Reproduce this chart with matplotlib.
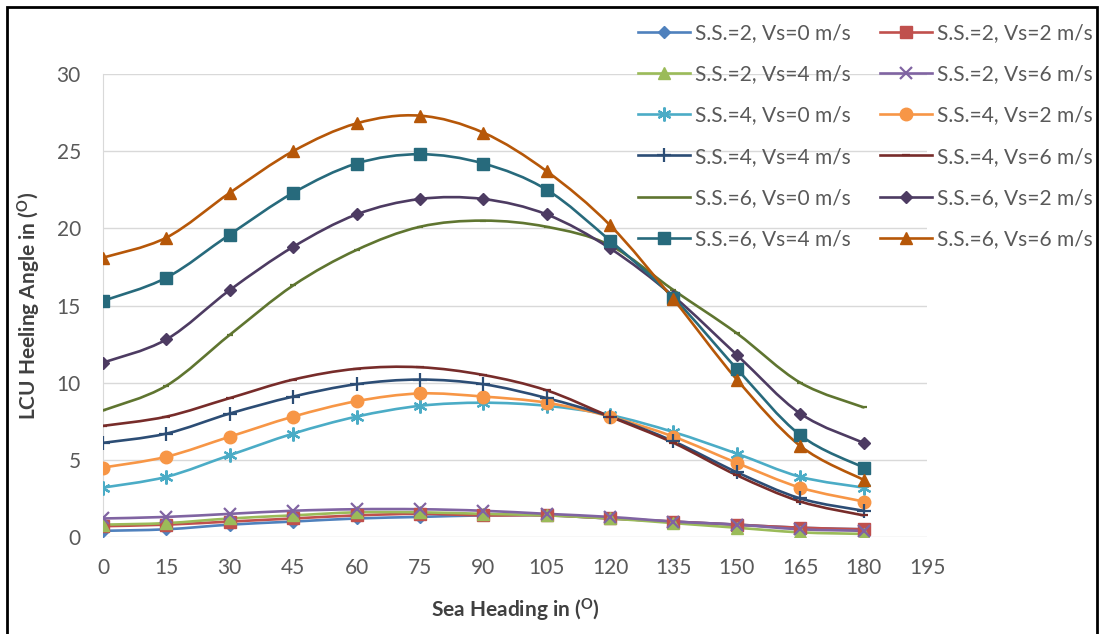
import numpy as np
import matplotlib
matplotlib.use('Agg')
import matplotlib.pyplot as plt
from matplotlib.path import Path
from matplotlib.patches import PathPatch, Rectangle
from matplotlib.lines import Line2D

plt.rcParams['font.family'] = ['Lato', 'DejaVu Sans']
plt.rcParams['mathtext.fontset'] = 'custom'
plt.rcParams['mathtext.rm'] = 'Lato'
plt.rcParams['mathtext.bf'] = 'Lato:bold'

heading = [0, 15, 30, 45, 60, 75, 90, 105, 120, 135, 150, 165, 180]

ss2_v0 = [0.4, 0.5, 0.8, 1.0, 1.2, 1.3, 1.4, 1.4, 1.2, 1.0, 0.8, 0.6, 0.5]
ss2_v2 = [0.7, 0.8, 1.0, 1.2, 1.4, 1.5, 1.4, 1.4, 1.2, 1.0, 0.8, 0.6, 0.5]
ss2_v4 = [0.8, 0.9, 1.2, 1.4, 1.6, 1.6, 1.5, 1.4, 1.2, 0.9, 0.6, 0.3, 0.2]
ss2_v6 = [1.2, 1.3, 1.5, 1.7, 1.8, 1.8, 1.7, 1.5, 1.3, 1.0, 0.8, 0.5, 0.4]
ss4_v0 = [3.2, 3.9, 5.3, 6.7, 7.8, 8.5, 8.7, 8.5, 7.9, 6.8, 5.4, 3.9, 3.2]
ss4_v2 = [4.5, 5.2, 6.5, 7.8, 8.8, 9.3, 9.1, 8.7, 7.8, 6.5, 4.8, 3.2, 2.3]
ss4_v4 = [6.1, 6.7, 8.0, 9.1, 9.9, 10.2, 9.9, 9.0, 7.8, 6.2, 4.2, 2.5, 1.7]
ss4_v6 = [7.2, 7.8, 9.0, 10.2, 10.9, 11.0, 10.5, 9.5, 7.8, 6.1, 4.0, 2.3, 1.4]
ss6_v0 = [8.2, 9.8, 13.1, 16.3, 18.6, 20.1, 20.5, 20.1, 18.9, 16.0, 13.2, 10.0, 8.4]
ss6_v2 = [11.3, 12.8, 16.0, 18.8, 20.9, 21.9, 21.9, 20.9, 18.7, 15.6, 11.8, 8.0, 6.1]
ss6_v4 = [15.3, 16.8, 19.6, 22.3, 24.2, 24.8, 24.2, 22.5, 19.2, 15.5, 10.9, 6.6, 4.5]
ss6_v6 = [18.1, 19.4, 22.3, 25.0, 26.8, 27.3, 26.2, 23.7, 20.2, 15.4, 10.2, 5.9, 3.7]

labels = ['S.S.=2, Vs=0 m/s', 'S.S.=2, Vs=2 m/s', 'S.S.=2, Vs=4 m/s', 'S.S.=2, Vs=6 m/s',
          'S.S.=4, Vs=0 m/s', 'S.S.=4, Vs=2 m/s', 'S.S.=4, Vs=4 m/s', 'S.S.=4, Vs=6 m/s',
          'S.S.=6, Vs=0 m/s', 'S.S.=6, Vs=2 m/s', 'S.S.=6, Vs=4 m/s', 'S.S.=6, Vs=6 m/s']
series = [ss2_v0, ss2_v2, ss2_v4, ss2_v6, ss4_v0, ss4_v2, ss4_v4, ss4_v6,
          ss6_v0, ss6_v2, ss6_v4, ss6_v6]
colors = ['#4F81BD', '#C0504D', '#9BBB59', '#8064A2', '#4BACC6', '#F79646',
          '#2C4D75', '#772C2A', '#5F7530', '#4D3B62', '#276A7C', '#B65708']
markers = ['D', 's', '^', 'x', (6, 2, 0), 'o', '+', '_', '_', 'D', 's', '^']
msizes = [6, 8, 8, 9, 10, 9, 10, 6, 5, 6.5, 8, 8.5]


def smooth_path(x, y):
    # Excel-like smoothed line: cubic bezier through the points
    p = np.column_stack([x, y]).astype(float)
    ext = np.vstack([p[0], p, p[-1]])
    verts = [p[0]]
    codes = [Path.MOVETO]
    for i in range(len(p) - 1):
        c1 = ext[i + 1] + (ext[i + 2] - ext[i]) / 6.0
        c2 = ext[i + 2] - (ext[i + 3] - ext[i + 1]) / 6.0
        verts += [c1, c2, ext[i + 2]]
        codes += [Path.CURVE4] * 3
    return Path(verts, codes)


fig = plt.figure(figsize=(11.02, 6.34), dpi=100)
ax = fig.add_axes([103 / 1102, 97 / 634, 824 / 1102, 463 / 634])

handles = []
for vals, lab, c, m, ms in zip(series, labels, colors, markers, msizes):
    ax.add_patch(PathPatch(smooth_path(heading, vals), facecolor='none',
                           edgecolor=c, lw=1.9, capstyle='round', zorder=3))
    mew = 1.6 if m in ('x', '+', '_') or isinstance(m, tuple) else 1
    ax.plot(heading, vals, ls='none', marker=m, ms=ms, color=c, mec=c, mew=mew, zorder=4)
    hm = 'None' if lab == 'S.S.=6, Vs=0 m/s' else m
    handles.append(Line2D([], [], color=c, lw=1.9, marker=hm, ms=ms, mec=c, mew=mew, label=lab))

ax.set_xlim(0, 195)
ax.set_ylim(0, 30)
ax.set_xticks(range(0, 196, 15))
ax.set_yticks(range(0, 31, 5))
ax.grid(axis='y', color='#D9D9D9', lw=1)
ax.set_axisbelow(True)
for s in ['top', 'right', 'bottom']:
    ax.spines[s].set_visible(False)
ax.spines['left'].set_color('#D9D9D9')
ax.tick_params(length=0, labelsize=15, labelcolor='#595959')
ax.tick_params(axis='x', pad=15)
ax.tick_params(axis='y', pad=16)

ax.set_xlabel(r'Sea Heading in ($\mathbf{^O}$)', fontsize=15, fontweight='bold',
              color='#404040', labelpad=14)
ax.set_ylabel(r'LCU Heeling Angle in ($\mathbf{^O}$)', fontsize=15, fontweight='bold',
              color='#404040', labelpad=10)

# legend fills row by row in the reference
order = [0, 2, 4, 6, 8, 10, 1, 3, 5, 7, 9, 11]
fig.legend(handles=[handles[i] for i in order], ncol=2, loc='upper left',
           bbox_to_anchor=(638 / 1102, 1 - 23 / 634),
           frameon=False, fontsize=15, labelcolor='#595959', handlelength=2.5,
           handletextpad=0.25, columnspacing=1.4, labelspacing=1.02, borderpad=0,
           borderaxespad=0)

fig.patches.append(Rectangle((7 / 1102, -0.05), 1090 / 1102, 1.05 - 7 / 634,
                             transform=fig.transFigure, fill=False, ec='black', lw=2))

plt.savefig('out.png', dpi=100)
